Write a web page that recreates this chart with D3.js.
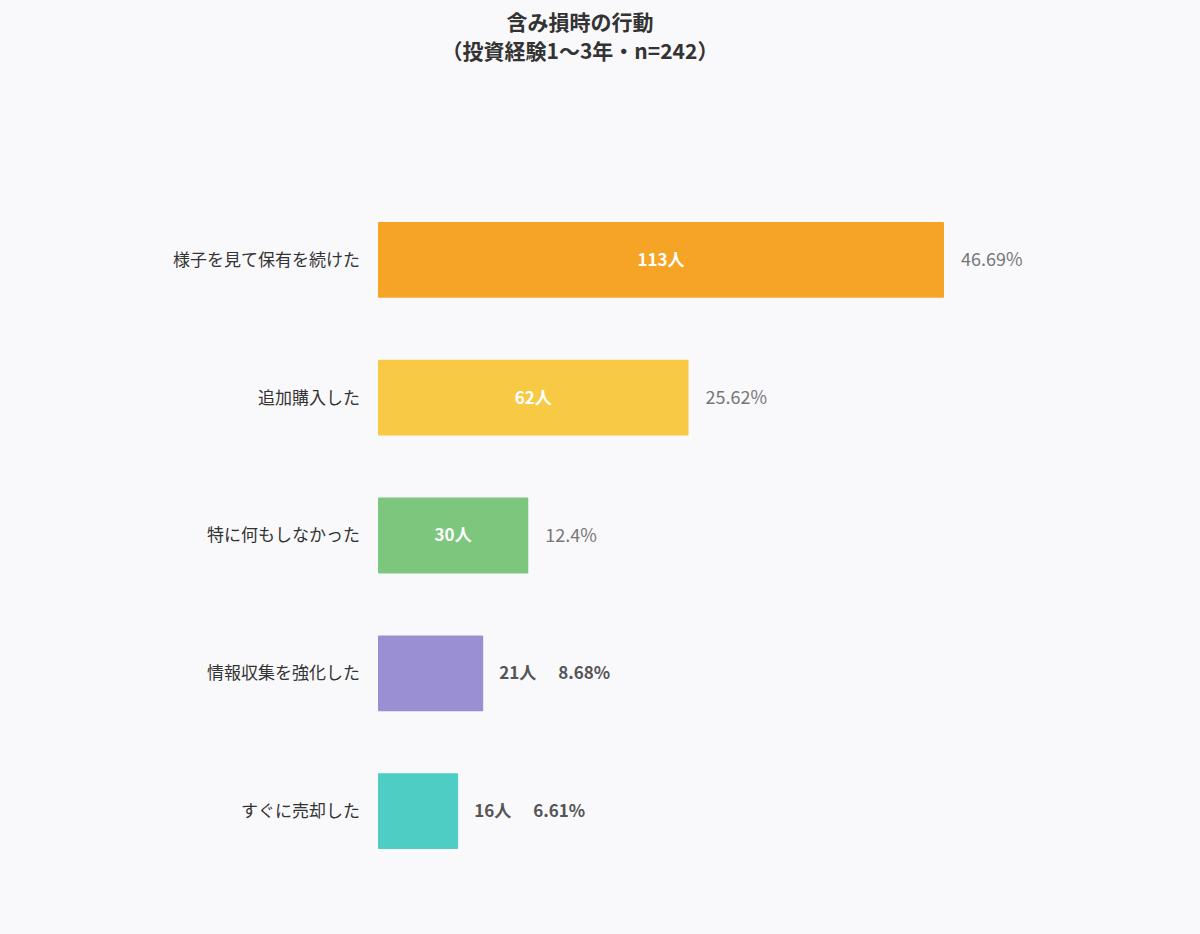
<!DOCTYPE html>
<html><head><meta charset="utf-8">
<script src="https://cdn.jsdelivr.net/npm/d3@7/dist/d3.min.js"></script>
<style>body{margin:0;background:#f9f8fb;font-family:"Noto Sans CJK JP","Noto Sans",sans-serif;}</style>
</head><body><svg id="c" width="1200" height="934"></svg>
<script>
const categories=["様子を見て保有を続けた","追加購入した","特に何もしなかった","情報収集を強化した","すぐに売却した"];
const counts=[113,62,30,21,16];
const percents=["46.69%","25.62%","12.4%","8.68%","6.61%"];
const colors=["#f6a425","#f8c945","#7dc67e","#9b8fd4","#4ecdc4"];
const svg=d3.select("#c");
svg.append("rect").attr("width",1200).attr("height",934).attr("fill","#f9f8fb");
const t=svg.append("text").attr("text-anchor","middle").attr("font-weight","bold").attr("font-size",21).attr("fill","#333");
t.append("tspan").attr("x",580).attr("y",30).text("含み損時の行動");
t.append("tspan").attr("x",580).attr("y",59).text("（投資経験1〜3年・n=242）");
const x=d3.scaleLinear().domain([0,113]).range([378,944]);
const y=d3.scaleBand().domain(categories).range([191,880]).paddingInner(0.45).paddingOuter(0.225);
const g=svg.append("g");
categories.forEach((c,i)=>{
  const yy=y(c),h=y.bandwidth(),cy=yy+h/2,xe=x(counts[i]);
  g.append("rect").attr("x",x(0)).attr("y",yy).attr("width",xe-x(0)).attr("height",h).attr("fill",colors[i]).attr("rx",1);
  g.append("text").attr("x",360).attr("y",cy).attr("dy","0.35em").attr("text-anchor","end").attr("font-size",17).attr("fill","#333").text(c);
  if(counts[i]>=30){
    g.append("text").attr("x",(x(0)+xe)/2).attr("y",cy).attr("dy","0.35em").attr("text-anchor","middle").attr("font-size",17).attr("font-weight","bold").attr("fill","#fff").text(counts[i]+"人");
    g.append("text").attr("x",xe+17).attr("y",cy).attr("dy","0.35em").attr("font-size",18).attr("fill","#777").text(percents[i]);
  } else {
    g.append("text").attr("x",xe+16).attr("y",cy).attr("dy","0.35em").attr("font-size",17).attr("font-weight","bold").attr("fill","#555").text(counts[i]+"人");
    g.append("text").attr("x",xe+75).attr("y",cy).attr("dy","0.35em").attr("font-size",17).attr("font-weight","bold").attr("fill","#555").text(percents[i]);
  }
});
</script></body></html>
